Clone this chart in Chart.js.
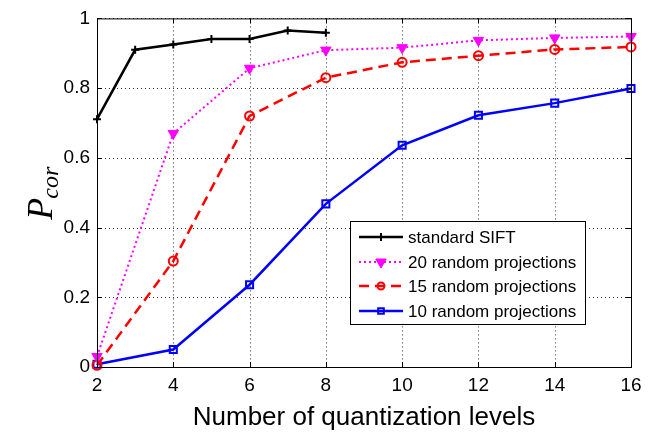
<!DOCTYPE html>
<html>
<head>
<meta charset="utf-8">
<script src="https://cdn.jsdelivr.net/npm/chart.js@4.4.1/dist/chart.umd.min.js"></script>
<style>
  html, body { margin:0; padding:0; background:#fff; }
  #wrap { width:659px; height:434px; }
</style>
</head>
<body>
<div id="wrap"><canvas id="pcorChart" width="659" height="434"></canvas></div>
<script>
// data
const siftLevels = [2, 3, 4, 5, 6, 7, 8];
const siftPcor   = [0.711, 0.910, 0.925, 0.941, 0.941, 0.965, 0.959];

const levels = [2, 4, 6, 8, 10, 12, 14, 16];
const rp20 = [0.030, 0.670, 0.857, 0.909, 0.916, 0.937, 0.944, 0.948];
const rp15 = [0.005, 0.304, 0.720, 0.830, 0.874, 0.893, 0.911, 0.918];
const rp10 = [0.008, 0.050, 0.236, 0.468, 0.636, 0.722, 0.757, 0.799];

const seriesLabels = ["standard SIFT", "20 random projections", "15 random projections", "10 random projections"];
const xTicks = [2, 4, 6, 8, 10, 12, 14, 16];
const yTicks = [0, 0.2, 0.4, 0.6, 0.8, 1];

const FONT = "'Liberation Sans', Arial, Helvetica, sans-serif";

function pts(xs, ys){ return xs.map((x, i) => ({ x:x, y:ys[i] })); }

const datasets = [
  { label:seriesLabels[0], data:pts(siftLevels, siftPcor), borderColor:"#000", backgroundColor:"#000",
    borderWidth:2.5, pointStyle:"cross", pointRadius:4, pointBorderWidth:2, legendRadius:4 },
  { label:seriesLabels[1], data:pts(levels, rp20), borderColor:"#ff00ff", backgroundColor:"#ff00ff",
    borderWidth:2, borderDash:[2, 3], pointStyle:"triangle", pointRotation:180, pointRadius:6,
    pointBorderWidth:1, legendRadius:6 },
  { label:seriesLabels[2], data:pts(levels, rp15), borderColor:"#ff0000", backgroundColor:"rgba(0,0,0,0)",
    borderWidth:2.5, borderDash:[10, 6], pointStyle:"circle", pointRadius:4.5, pointBorderWidth:2, legendRadius:3.5 },
  { label:seriesLabels[3], data:pts(levels, rp10), borderColor:"#0000ff", backgroundColor:"rgba(0,0,0,0)",
    borderWidth:2.5, pointStyle:"rect", pointRadius:5, pointBorderWidth:2, legendRadius:4 }
];
datasets.forEach(d => { d.tension = 0; d.clip = false; d.fill = false; d.pointBackgroundColor = d.backgroundColor; d.pointBorderColor = d.borderColor; });

// dotted grid under the lines
const dottedGrid = {
  id:"dottedGrid",
  beforeDatasetsDraw(chart){
    const ctx = chart.ctx, a = chart.chartArea;
    const xs = chart.scales.x, ys = chart.scales.y;
    ctx.save();
    ctx.strokeStyle = "rgba(0,0,0,0.8)";
    ctx.lineWidth = 1;
    ctx.setLineDash([1, 3]);
    ctx.beginPath();
    xTicks.forEach(v => {
      const px = Math.round(xs.getPixelForValue(v)) + 0.5;
      ctx.moveTo(px, a.top); ctx.lineTo(px, a.bottom);
    });
    yTicks.forEach(v => {
      const py = Math.round(ys.getPixelForValue(v)) + 0.5;
      ctx.moveTo(a.left, py); ctx.lineTo(a.right, py);
    });
    ctx.stroke();
    ctx.restore();
  }
};

// frame, inward ticks, axis titles and boxed legend
const decorations = {
  id:"decorations",
  afterDraw(chart){
    const ctx = chart.ctx, a = chart.chartArea;
    const xs = chart.scales.x, ys = chart.scales.y;
    ctx.save();
    ctx.strokeStyle = "#000";
    ctx.lineWidth = 1;
    ctx.setLineDash([]);
    ctx.strokeRect(a.left + 0.5, a.top + 0.5, a.right - a.left, a.bottom - a.top);
    ctx.beginPath();
    xTicks.forEach(v => {
      const px = Math.round(xs.getPixelForValue(v)) + 0.5;
      ctx.moveTo(px, a.bottom); ctx.lineTo(px, a.bottom - 5);
      ctx.moveTo(px, a.top); ctx.lineTo(px, a.top + 5);
    });
    yTicks.forEach(v => {
      const py = Math.round(ys.getPixelForValue(v)) + 0.5;
      ctx.moveTo(a.left, py); ctx.lineTo(a.left + 5, py);
      ctx.moveTo(a.right, py); ctx.lineTo(a.right - 5, py);
    });
    ctx.stroke();

    // x title
    ctx.fillStyle = "#000";
    ctx.font = "26px " + FONT;
    ctx.textAlign = "center";
    ctx.textBaseline = "alphabetic";
    ctx.fillText("Number of quantization levels", (a.left + a.right) / 2, 425);

    // y title P_cor
    ctx.save();
    ctx.translate(52, (a.top + a.bottom) / 2);
    ctx.rotate(-Math.PI / 2);
    ctx.font = "italic 36px 'Liberation Serif', 'Times New Roman', serif";
    const wP = ctx.measureText("P").width;
    ctx.font = "italic 24px 'Liberation Serif', 'Times New Roman', serif";
    const wSub = ctx.measureText("cor").width;
    const x0 = -(wP + wSub) / 2;
    ctx.textAlign = "left";
    ctx.font = "italic 36px 'Liberation Serif', 'Times New Roman', serif";
    ctx.fillText("P", x0, 0);
    ctx.font = "italic 24px 'Liberation Serif', 'Times New Roman', serif";
    ctx.fillText("cor", x0 + wP - 1, 6);
    ctx.restore();

    // legend
    const bx = 350, by = 221, bw = 235, bh = 103;
    ctx.fillStyle = "#fff";
    ctx.fillRect(bx, by, bw, bh);
    ctx.strokeStyle = "#000";
    ctx.lineWidth = 1;
    ctx.strokeRect(bx + 0.5, by + 0.5, bw, bh);
    const rowY = [237, 262, 286, 311];
    chart.data.datasets.forEach((d, i) => {
      const y = rowY[i];
      ctx.save();
      ctx.strokeStyle = d.borderColor;
      ctx.lineWidth = d.borderWidth;
      ctx.setLineDash(d.borderDash || []);
      ctx.beginPath();
      ctx.moveTo(359, y); ctx.lineTo(403, y);
      ctx.stroke();
      ctx.setLineDash([]);
      ctx.fillStyle = d.backgroundColor;
      ctx.strokeStyle = d.borderColor;
      ctx.lineWidth = d.pointBorderWidth;
      Chart.helpers.drawPoint(ctx, { pointStyle:d.pointStyle, radius:d.legendRadius,
        rotation:d.pointRotation || 0, borderWidth:d.pointBorderWidth }, 381, y);
      ctx.restore();
      ctx.fillStyle = "#000";
      ctx.font = "17px " + FONT;
      ctx.textAlign = "left";
      ctx.textBaseline = "middle";
      ctx.fillText(d.label, 408, y + 1);
    });
    ctx.restore();
  }
};

const ctx = document.getElementById("pcorChart").getContext("2d");
new Chart(ctx, {
  type:"line",
  data:{ datasets:datasets },
  plugins:[dottedGrid, decorations],
  options:{
    responsive:false,
    animation:false,
    layout:{ padding:{ top:10, right:28, left:0, bottom:0 } },
    plugins:{ legend:{ display:false }, tooltip:{ enabled:false } },
    scales:{
      x:{
        type:"linear", min:2, max:16,
        afterFit(s){ s.height = 67; },
        afterBuildTicks(s){ s.ticks = xTicks.map(v => ({ value:v })); },
        grid:{ display:false, drawTicks:false },
        border:{ display:false },
        ticks:{ color:"#000", padding:7, font:{ family:FONT, size:19 }, maxRotation:0 }
      },
      y:{
        min:0, max:1,
        afterFit(s){ s.width = 97; },
        afterBuildTicks(s){ s.ticks = yTicks.map(v => ({ value:v })); },
        grid:{ display:false, drawTicks:false },
        border:{ display:false },
        ticks:{ color:"#000", padding:7, font:{ family:FONT, size:19 },
          callback:v => String(Math.round(v * 10) / 10) }
      }
    }
  }
});
</script>
</body>
</html>
